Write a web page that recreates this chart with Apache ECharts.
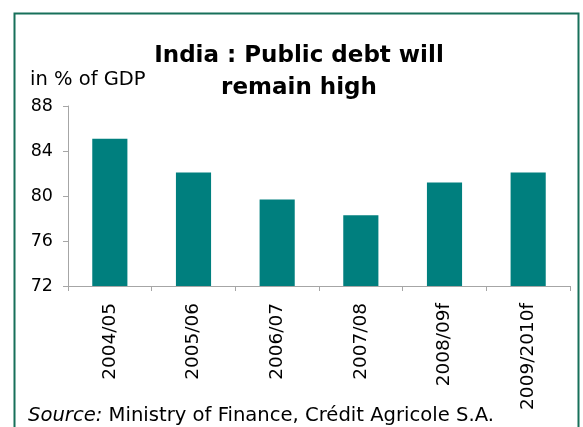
<!DOCTYPE html>
<html><head><meta charset="utf-8">
<script src="https://cdn.jsdelivr.net/npm/echarts@6/dist/echarts.min.js"></script>
<style>html,body{margin:0;padding:0;background:#fff}#c{width:583px;height:427px}</style>
</head><body><div id="c"></div>
<script>
const categories = ['2004/05','2005/06','2006/07','2007/08','2008/09f','2009/2010f'];
const debtValues = [85.1, 82.1, 79.7, 78.3, 81.2, 82.1];
const yTicks = [72, 76, 80, 84, 88];

const FONT = 'DejaVu Sans';
const TFONT = 'DejaVu Sans';
const chart = echarts.init(document.getElementById('c'), null, {renderer:'canvas'});
chart.setOption({
  animation:false,
  backgroundColor:'#fff',
  title:{
    text:'India : Public debt will\nremain high',
    left:294, top:35, textAlign:'center',
    textStyle:{fontFamily:TFONT, fontWeight:'bold', fontSize:23, lineHeight:32, color:'#000'}
  },
  graphic:[
    {type:'rect', shape:{x:14.5,y:13.5,width:564,height:440}, style:{fill:'none', stroke:'#17705a', lineWidth:2}},
    {type:'text', left:30, top:70, style:{text:'in % of GDP', font:'19.5px '+FONT, fill:'#000'}},
    {type:'text', left:28, top:406, style:{
      text:'{i|Source:} Ministry of Finance, Crédit Agricole S.A.',
      font:'19.6px '+FONT, fill:'#000',
      rich:{i:{fontStyle:'italic', fontFamily:FONT, fontSize:19.6, fill:'#000'}}
    }}
  ],
  grid:{left:68, right:13, top:106, bottom:141},
  xAxis:{
    type:'category', data:categories,
    axisLine:{lineStyle:{color:'#a6a6a6'}},
    axisTick:{show:true, length:5, lineStyle:{color:'#a6a6a6'}},
    axisLabel:{rotate:90, fontFamily:FONT, fontSize:18.5, color:'#000', margin:17}
  },
  yAxis:{
    type:'value', min:72, max:88, interval:4,
    axisLine:{show:true, lineStyle:{color:'#a6a6a6'}},
    axisTick:{show:true, length:5, lineStyle:{color:'#a6a6a6'}},
    splitLine:{show:false},
    axisLabel:{fontFamily:FONT, fontSize:17.5, color:'#000', margin:15,
      formatter:v=>yTicks.includes(v)?String(v):''}
  },
  series:[{type:'bar', data:debtValues, barWidth:'42%', itemStyle:{color:'#007f7e'}}]
});
</script></body></html>
